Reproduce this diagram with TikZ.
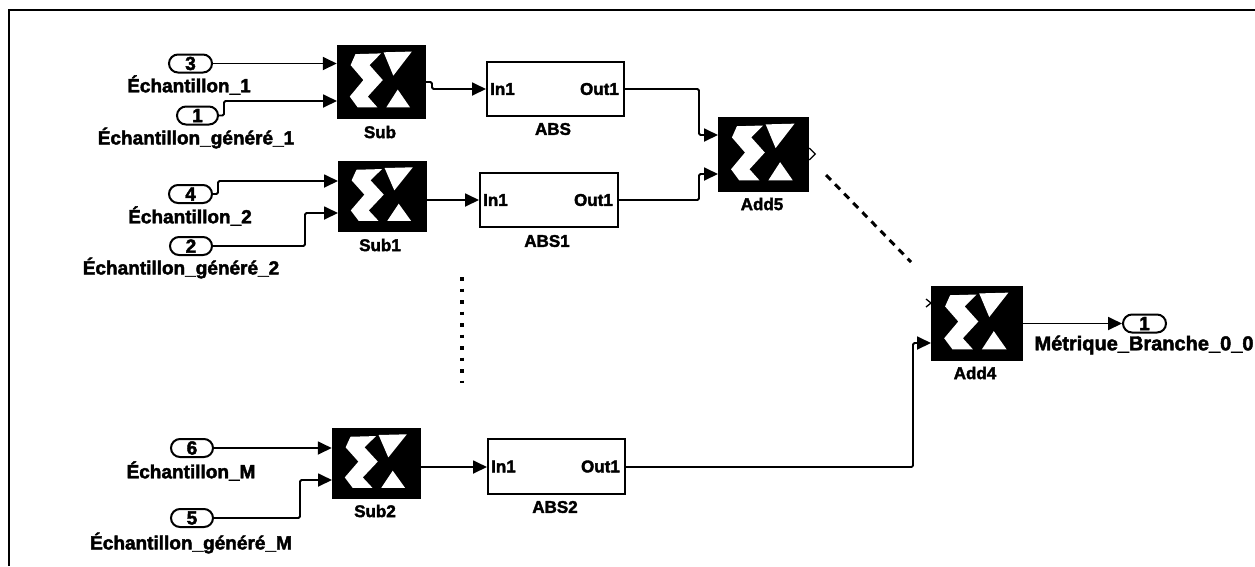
\documentclass[tikz,border=0pt]{standalone}
\usepackage{fontspec}
\setmainfont[BoldFeatures={FakeBold=2.2}]{Liberation Sans}
\usetikzlibrary{arrows.meta}
\tikzset{
  wire/.style={line width=1.8pt,-{Triangle[length=14pt,width=13pt]},rounded corners=1.5pt},
  lbl/.style={inner sep=0pt,font=\fontsize{17}{20}\selectfont\bfseries,text=black},
  longlbl/.style={inner sep=0pt,font=\fontsize{19}{20}\selectfont\bfseries,text=black},
  port/.style={draw,line width=2pt,rounded corners=9pt,minimum height=18pt,inner sep=0pt,font=\fontsize{19}{20}\selectfont\bfseries},
  absblock/.style={draw,line width=2pt,inner sep=0pt,fill=white},
  logoblock/.style={fill=black,inner sep=0pt,draw=black,line width=.5pt}
}
\newcommand{\xlogo}[5]{%
  \node[logoblock,minimum width={(#4-#2)*1pt},minimum height={(#5-#3)*1pt}] (#1) at ({(#2+#4)/2},{(#3+#5)/2}) {};
  \begin{scope}[shift={(#2,#3)},xscale={#4-#2},yscale={#5-#3}]
    \fill[white] (.21,.125)--(.5,.115)--(.37,.276)--(.52,.48)--(.35,.706)--(.46,.855)--(.235,.855)--(.145,.706)--(.3,.48)--(.155,.276)--cycle;
    \fill[white] (.53,.1)--(.85,.09)--(.64,.42)--cycle;
    \fill[white] (.56,.855)--(.83,.855)--(.69,.61)--cycle;
  \end{scope}}
\newcommand{\absb}[5]{%
  \node[absblock,minimum width={(#4-#2)*1pt},minimum height={(#5-#3)*1pt}] (#1) at ({(#2+#4)/2},{(#3+#5)/2}) {};
  \node[lbl,anchor=west] (#1in) at ([xshift=4pt]#1.west) {In1};
  \node[lbl,anchor=east] (#1out) at ([xshift=-6pt]#1.east) {Out1};}
\begin{document}
\begin{tikzpicture}[x=1pt,y=-1pt]
\useasboundingbox (0,0) rectangle (1255,566);
\fill[white] (0,0) rectangle (1255,566);
\draw[line width=2pt] (9,566) -- (9,10) -- (1255,10);

% logic blocks
\xlogo{Sub}{337}{45}{425}{118}
\xlogo{SubA}{338}{161}{426}{231}
\xlogo{SubB}{332}{428}{420}{498}
\xlogo{AddF}{718}{117}{808}{191}
\xlogo{AddE}{931}{286}{1022}{360}

\absb{ABS}{487}{62}{624}{116}
\absb{ABSA}{480}{173}{618}{227}
\absb{ABSB}{488}{439}{625}{494}

% ports
\node[port,minimum width=43pt] (pIII) at (190.5,63.5) {3};
\node[port,minimum width=41pt] (pI)   at (197.5,115.5) {1};
\node[port,minimum width=43pt] (pIV)  at (190.5,194) {4};
\node[port,minimum width=42pt] (pII)  at (191,246) {2};
\node[port,minimum width=42pt] (pVI)  at (192,448) {6};
\node[port,minimum width=42pt] (pV)   at (192,518) {5};
\node[port,minimum width=43pt] (pO)   at (1144.5,323.5) {1};

% labels
\node[longlbl] (l1) at (189,85) {Échantillon\_1};
\node[longlbl] (l2) at (196,138) {Échantillon\_généré\_1};
\node[longlbl] (l3) at (190,216) {Échantillon\_2};
\node[longlbl] (l4) at (181,268) {Échantillon\_généré\_2};
\node[longlbl] (l5) at (191,471) {Échantillon\_M};
\node[longlbl] (l6) at (191,543) {Échantillon\_généré\_M};
\node[longlbl,font=\fontsize{20}{20}\selectfont\bfseries] (l7) at (1144,345) {Métrique\_Branche\_0\_0};
\node[lbl] (n1) at (380,132) {Sub};
\node[lbl] (n2) at (380,245) {Sub1};
\node[lbl] (n3) at (375,511) {Sub2};
\node[lbl] (n4) at (553,129) {ABS};
\node[lbl] (n5) at (547,241) {ABS1};
\node[lbl] (n6) at (555,507) {ABS2};
\node[lbl] (n7) at (762,204) {Add5};
\node[lbl] (n8) at (975,373) {Add4};

% helper points on block edges
\coordinate (SubB1) at (337,101);
\coordinate (SubAa) at (338,181);
\coordinate (SubAb) at (338,213);
\coordinate (SubBb) at (332,480);
\coordinate (AddFa) at (718,135);
\coordinate (AddFb) at (718,174);
\coordinate (AddEb) at (931,343);
\coordinate (dashA) at (826,175);
\coordinate (dashB) at (911,262);
\coordinate (dotA) at (462,277);
\coordinate (dotB) at (462,383);

% connectors
\draw[wire] (pIII.east) -- (Sub.west |- pIII.east);
\draw[wire] (pI.east) -- (224,115.5) -- (224,101) -- (SubB1);
\draw[wire] (pIV.east) -- (218,194) -- (218,181) -- (SubAa);
\draw[wire] (pII.east) -- (305,246) -- (305,213) -- (SubAb);
\draw[wire] (pVI.east) -- (SubB.west |- pVI.east);
\draw[wire] (pV.east) -- (300,518) -- (300,480) -- (SubBb);
\draw[wire] (425,82) -- (432,82) -- (432,89) -- (ABS.west |- 0,89);
\draw[wire] (SubA.east |- 0,200) -- (ABSA.west |- 0,200);
\draw[wire] (SubB.east |- 0,467) -- (ABSB.west |- 0,467);
\draw[wire] (ABS.east |- 0,89) -- (699,89) -- (699,135) -- (AddFa);
\draw[wire] (ABSA.east |- 0,200) -- (699,200) -- (699,174) -- (AddFb);
\draw[wire] (ABSB.east |- 0,467) -- (913,467) -- (913,343) -- (AddEb);
\draw[wire] (AddE.east |- pO.west) -- (pO.west);

% open output of Add5 and free input of Add4
\draw[line width=1.3pt] ([shift={(1,-6)}]AddF.east) -- ([shift={(7,0)}]AddF.east) -- ([shift={(1,6)}]AddF.east);
\draw[line width=1.3pt] (926,299) -- (931,303) -- (926,307);

% ellipsis marks
\draw[line width=3pt,dash pattern=on 7pt off 6pt] (dashA) -- (dashB);
\draw[line width=3.5pt,dash pattern=on 3.5pt off 8pt] (dotA) -- (dotB);
\end{tikzpicture}
\end{document}
